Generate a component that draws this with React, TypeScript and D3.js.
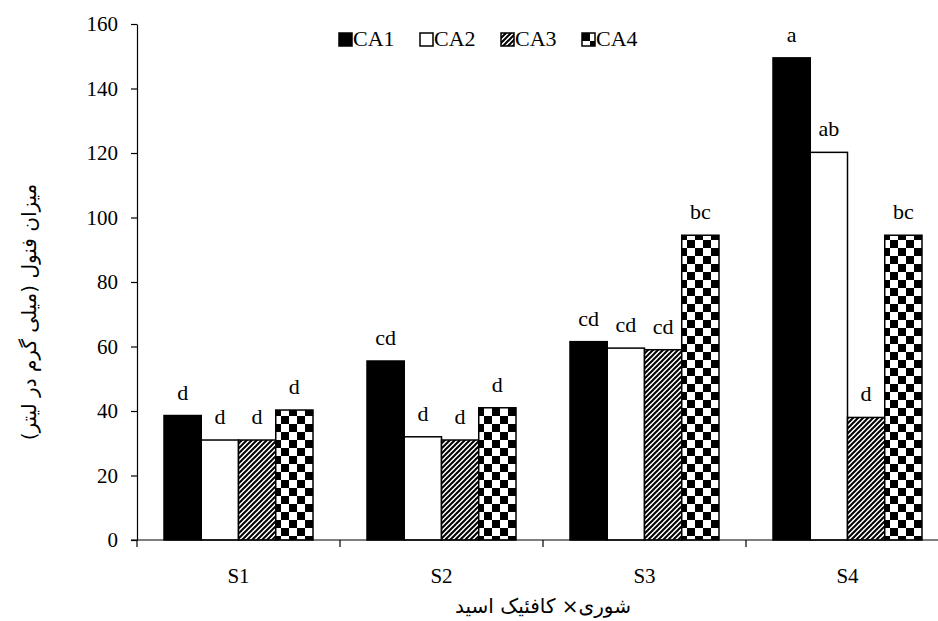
import * as d3 from "d3";
import { useRef, useEffect } from "react";

const categories = ["S1", "S2", "S3", "S4"];
const seriesNames = ["CA1", "CA2", "CA3", "CA4"];
// values per category, in the order S1..S4
const valuesCA1 = [38.6, 55.5, 61.5, 149.5];
const valuesCA2 = [31, 32, 59.5, 120.2];
const valuesCA3 = [31, 31, 59, 38];
const valuesCA4 = [40.3, 41, 94.5, 94.5];
const lettersCA1 = ["d", "cd", "cd", "a"];
const lettersCA2 = ["d", "d", "cd", "ab"];
const lettersCA3 = ["d", "d", "cd", "d"];
const lettersCA4 = ["d", "d", "bc", "bc"];
const yTicks = [0, 20, 40, 60, 80, 100, 120, 140, 160];

const yTitle = "میزان فنول (میلی گرم در لیتر)";
const xTitle = "شوری× کافئیک اسید";

const width = 938;
const height = 621;
const marginLeft = 137;
const plotRight = 949;
const marginTop = 24;
const baseY = 540;

const font = "'Liberation Serif', 'Times New Roman', serif";
const fillFor = {
    CA1: "#000",
    CA2: "#fff",
    CA3: "url(#hatch)",
    CA4: "url(#checker)"
};

export default function App() {
    const gy = useRef(null);

    const allValues = [valuesCA1, valuesCA2, valuesCA3, valuesCA4];
    const allLetters = [lettersCA1, lettersCA2, lettersCA3, lettersCA4];

    const data = categories.map((cat, i) => ({
        cat,
        bars: seriesNames.map((name, j) => ({
            name,
            value: allValues[j][i],
            letter: allLetters[j][i]
        }))
    }));

    const x0 = d3.scaleBand()
        .domain(categories)
        .range([marginLeft, plotRight])
        .padding(0);

    const x1 = d3.scaleBand()
        .domain(seriesNames)
        .range([0, x0.bandwidth()])
        .paddingInner(0)
        .paddingOuter(0.725);

    const y = d3.scaleLinear()
        .domain([0, 160])
        .range([baseY, marginTop]);

    useEffect(() => {
        const g = d3.select(gy.current);
        g.call(
            d3.axisLeft(y)
                .tickValues(yTicks)
                .tickSize(6)
                .tickPadding(13)
                .tickSizeOuter(0)
        );
        g.select(".domain").attr("stroke", "#000").attr("stroke-width", 1.2);
        g.selectAll(".tick line").attr("stroke", "#000").attr("stroke-width", 1.2);
        g.selectAll(".tick text")
            .attr("font-family", font)
            .attr("font-size", 21)
            .attr("fill", "#000");
    }, []);

    const boundaries = [...categories.map(c => x0(c)), plotRight];

    return (
        <svg
            width={width}
            height={height}
            style={{ position: "absolute", left: 0, top: 0, background: "#fff" }}
        >
            <defs>
                <pattern id="hatch" patternUnits="userSpaceOnUse" width={5} height={5}>
                    <rect width={5} height={5} fill="#fff" />
                    <path d="M-1,1 l2,-2 M0,5 l5,-5 M4,6 l2,-2" stroke="#000" strokeWidth={2} />
                </pattern>
                <pattern id="checker" patternUnits="userSpaceOnUse" width={16} height={16}>
                    <rect width={16} height={16} fill="#fff" />
                    <rect width={8} height={8} fill="#000" />
                    <rect x={8} y={8} width={8} height={8} fill="#000" />
                </pattern>
            </defs>

            {data.map(group => (
                <g key={group.cat} transform={`translate(${x0(group.cat)},0)`}>
                    {group.bars.map(b => (
                        <g key={b.name}>
                            <rect
                                x={x1(b.name)}
                                y={y(b.value)}
                                width={x1.bandwidth()}
                                height={baseY - y(b.value)}
                                fill={fillFor[b.name]}
                                stroke="#000"
                                strokeWidth={1.5}
                            />
                            <text
                                x={x1(b.name) + x1.bandwidth() / 2}
                                y={y(b.value) - 16}
                                textAnchor="middle"
                                fontFamily={font}
                                fontSize={22}
                            >
                                {b.letter}
                            </text>
                        </g>
                    ))}
                </g>
            ))}

            {/* x axis */}
            <line x1={marginLeft - 6} x2={plotRight} y1={baseY} y2={baseY} stroke="#000" strokeWidth={1.2} />
            {boundaries.map((bx, i) => (
                <line key={i} x1={bx} x2={bx} y1={baseY} y2={baseY + 7} stroke="#000" strokeWidth={1.2} />
            ))}
            {categories.map(c => (
                <text
                    key={c}
                    x={x0(c) + x0.bandwidth() / 2}
                    y={583}
                    textAnchor="middle"
                    fontFamily={font}
                    fontSize={21}
                >
                    {c}
                </text>
            ))}

            <g ref={gy} transform={`translate(${marginLeft},0)`} />

            {/* legend */}
            {seriesNames.map((name, i) => (
                <g key={name} transform={`translate(${339 + i * 81},33)`}>
                    <rect width={13} height={13} fill={fillFor[name]} stroke="#000" strokeWidth={1.5} />
                    <text x={14} y={13} fontFamily={font} fontSize={22}>{name}</text>
                </g>
            ))}

            <text
                transform={`translate(36,312) rotate(-90)`}
                textAnchor="middle"
                fontFamily="'DejaVu Sans', sans-serif"
                fontSize={20}
                direction="rtl"
            >
                {yTitle}
            </text>
            <text
                x={543}
                y={613}
                textAnchor="middle"
                fontFamily="'DejaVu Sans', sans-serif"
                fontSize={20}
                direction="rtl"
            >
                {xTitle}
            </text>
        </svg>
    );
}
